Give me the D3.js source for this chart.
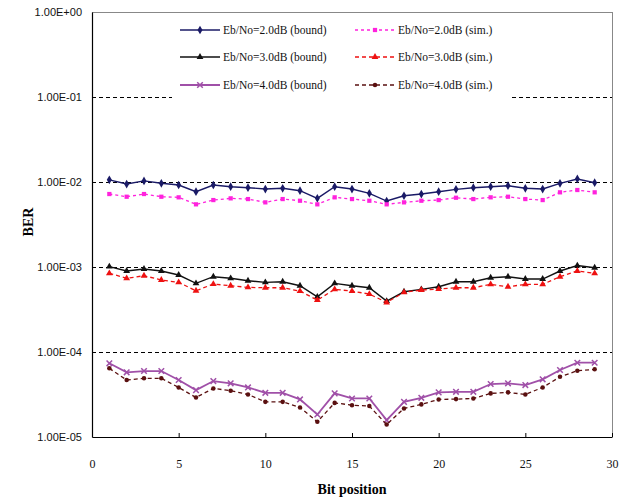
<!DOCTYPE html>
<html>
<head>
<meta charset="utf-8">
<script src="https://cdn.jsdelivr.net/npm/d3@7"></script>
<style>
  body { margin: 0; background: #fff; }
</style>
</head>
<body>
<div id="chart"></div>
<script>
// Bit positions 1..29
const bitPos = [1, 2, 3, 4, 5, 6, 7, 8, 9, 10, 11, 12, 13, 14, 15, 16, 17, 18, 19, 20,
  21, 22, 23, 24, 25, 26, 27, 28, 29];

const bound20 = [0.0106, 0.00947, 0.0103, 0.00965, 0.00922, 0.00769, 0.00922, 0.0088, 0.00857, 0.00827,
  0.00843, 0.0079, 0.00642, 0.0088, 0.00827, 0.00736, 0.00597, 0.00689, 0.00722, 0.00769,
  0.0082, 0.00857, 0.0088, 0.00905, 0.00843, 0.00827, 0.00965, 0.01085, 0.00981];
const sim20 = [0.00722, 0.00671, 0.00722, 0.00671, 0.0066, 0.00546, 0.00613, 0.00642, 0.0063, 0.00576,
  0.0063, 0.00602, 0.00546, 0.0066, 0.0063, 0.00602, 0.00546, 0.00576, 0.00602, 0.00613,
  0.00653, 0.0063, 0.0066, 0.00671, 0.0063, 0.00613, 0.00756, 0.00805, 0.00756];
const bound30 = [0.00101, 0.000897, 0.000947, 0.000897, 0.000805, 0.000642, 0.000769, 0.000736, 0.000689, 0.00066,
  0.000671, 0.000602, 0.000446, 0.000642, 0.000602, 0.00057, 0.000397, 0.000511, 0.000546, 0.000586,
  0.000671, 0.000671, 0.000748, 0.000769, 0.000722, 0.000722, 0.000897, 0.00104, 0.000981];
const sim30 = [0.000843, 0.000736, 0.00079, 0.000703, 0.00066, 0.000525, 0.00063, 0.000602, 0.000576, 0.00057,
  0.00057, 0.000521, 0.000408, 0.000546, 0.000521, 0.00048, 0.000383, 0.000503, 0.000536, 0.00055,
  0.00057, 0.00057, 0.000625, 0.000586, 0.000625, 0.000625, 0.000769, 0.000897, 0.000843];
const bound40 = [7.36e-5, 5.76e-5, 5.97e-5, 5.97e-5, 4.68e-5, 3.56e-5, 4.55e-5, 4.28e-5, 3.83e-5, 3.31e-5,
  3.31e-5, 2.77e-5, 1.84e-5, 3.26e-5, 2.84e-5, 2.84e-5, 1.58e-5, 2.59e-5, 2.89e-5, 3.35e-5,
  3.4e-5, 3.4e-5, 4.2e-5, 4.28e-5, 4.08e-5, 4.77e-5, 6.14e-5, 7.48e-5, 7.48e-5];
const sim40 = [6.42e-5, 4.68e-5, 4.9e-5, 4.9e-5, 3.83e-5, 2.92e-5, 3.73e-5, 3.5e-5, 3.17e-5, 2.59e-5,
  2.59e-5, 2.23e-5, 1.51e-5, 2.52e-5, 2.37e-5, 2.31e-5, 1.4e-5, 2.17e-5, 2.42e-5, 2.77e-5,
  2.79e-5, 2.84e-5, 3.26e-5, 3.35e-5, 3.17e-5, 3.83e-5, 5.11e-5, 6.02e-5, 6.25e-5];

const yTicks = [1e-5, 1e-4, 1e-3, 1e-2, 1e-1, 1];
const xTicks = [0, 5, 10, 15, 20, 25, 30];

const series = [
  { name: "Eb/No=2.0dB (bound)", values: bound20, color: "#1a1a66", marker: d3.symbolDiamond, size: 22, dash: null, lw: 1.4 },
  { name: "Eb/No=2.0dB (sim.)", values: sim20, color: "#ff22dd", marker: d3.symbolSquare, size: 18, dash: "3,3", lw: 1.3 },
  { name: "Eb/No=3.0dB (bound)", values: bound30, color: "#111111", marker: d3.symbolTriangle, size: 20, dash: null, lw: 1.4 },
  { name: "Eb/No=3.0dB (sim.)", values: sim30, color: "#ee1111", marker: d3.symbolTriangle, size: 20, dash: "4,3", lw: 1.3 },
  { name: "Eb/No=4.0dB (bound)", values: bound40, color: "#a050a8", marker: d3.symbolTimes, size: 22, dash: null, lw: 1.8 },
  { name: "Eb/No=4.0dB (sim.)", values: sim40, color: "#5a1010", marker: d3.symbolCircle, size: 16, dash: "4,3", lw: 1.3 }
];

// Dimensions
const width = 631;
const height = 502;
const margin = { top: 12, right: 19, bottom: 65, left: 92 };

const svg = d3.select("#chart").append("svg")
  .attr("width", width)
  .attr("height", height);

// Scales
const x = d3.scaleLinear()
  .domain([0, 30])
  .range([margin.left, width - margin.right]);

const y = d3.scaleLog()
  .domain([1e-5, 1])
  .range([height - margin.bottom, margin.top]);

// Frame (top and right in grey)
svg.append("line")
  .attr("x1", x(0)).attr("x2", x(30))
  .attr("y1", y(1)).attr("y2", y(1))
  .attr("stroke", "#888")
  .attr("shape-rendering", "crispEdges");
svg.append("line")
  .attr("x1", x(30)).attr("x2", x(30))
  .attr("y1", y(1)).attr("y2", y(1e-5))
  .attr("stroke", "#888")
  .attr("shape-rendering", "crispEdges");

// Dashed gridlines
svg.append("g")
  .selectAll("line")
  .data(yTicks.filter(d => d > 1e-5 && d < 1))
  .enter()
  .append("line")
    .attr("x1", x(0))
    .attr("x2", x(30))
    .attr("y1", d => Math.round(y(d)) + 0.5)
    .attr("y2", d => Math.round(y(d)) + 0.5)
    .attr("stroke", "#000")
    .attr("stroke-width", 1.2)
    .attr("stroke-dasharray", "4,3");

// Axes
const fmtExp = d => {
  const e = Math.round(Math.log10(d));
  const sign = e < 0 ? "-" : "+";
  return "1.00E" + sign + String(Math.abs(e)).padStart(2, "0");
};

const yAxis = svg.append("g")
  .attr("transform", `translate(${margin.left}, 0)`)
  .call(d3.axisLeft(y).tickValues(yTicks).tickFormat(fmtExp).tickSizeInner(0).tickSizeOuter(0).tickPadding(10));
yAxis.select(".domain").attr("stroke", "#000").attr("stroke-width", 1.2);
yAxis.selectAll("text")
  .style("font-family", "'Liberation Sans', Arial, sans-serif")
  .style("font-size", "11px")
  .attr("fill", "#111");

const xAxis = svg.append("g")
  .attr("transform", `translate(0, ${height - margin.bottom})`)
  .call(d3.axisBottom(x).tickValues(xTicks).tickSizeInner(-4).tickSizeOuter(0).tickPadding(22));
xAxis.select(".domain").attr("stroke-width", 1.2);
xAxis.selectAll("text")
  .style("font-family", "'Liberation Serif', 'Times New Roman', serif")
  .style("font-size", "12px")
  .attr("fill", "#111");

// Axis labels
svg.append("text")
  .attr("x", (x(0) + x(30)) / 2)
  .attr("y", 494)
  .attr("text-anchor", "middle")
  .style("font-family", "'Liberation Serif', 'Times New Roman', serif")
  .style("font-size", "14px")
  .style("font-weight", "bold")
  .text("Bit position");

svg.append("text")
  .attr("transform", "rotate(-90)")
  .attr("x", -222)
  .attr("y", 33)
  .attr("text-anchor", "middle")
  .style("font-family", "'Liberation Serif', 'Times New Roman', serif")
  .style("font-size", "14px")
  .style("font-weight", "bold")
  .text("BER");

// Lines and markers
const line = d3.line()
  .x((d, i) => x(bitPos[i]))
  .y(d => y(d));

series.forEach(s => {
  svg.append("path")
    .datum(s.values)
    .attr("fill", "none")
    .attr("stroke", s.color)
    .attr("stroke-width", s.lw)
    .attr("stroke-dasharray", s.dash)
    .attr("d", line);

  const isStroke = s.marker === d3.symbolTimes;
  svg.append("g")
    .selectAll("path")
    .data(s.values)
    .enter()
    .append("path")
      .attr("transform", (d, i) => `translate(${x(bitPos[i])},${y(d)})`)
      .attr("d", d3.symbol().type(s.marker).size(s.size))
      .attr("fill", isStroke ? "none" : s.color)
      .attr("stroke", isStroke ? s.color : "none")
      .attr("stroke-width", 1.5);
});

// Legend (white box hides the gridline behind it)
const legend = svg.append("g");
legend.append("rect")
  .attr("x", 172)
  .attr("y", 16)
  .attr("width", 340)
  .attr("height", 88)
  .attr("fill", "#fff");

const legendRows = [30, 57, 85];
series.forEach((s, i) => {
  const col = i % 2;
  const row = Math.floor(i / 2);
  const lx = col === 0 ? 180 : 355;
  const ly = legendRows[row];

  legend.append("line")
    .attr("x1", lx)
    .attr("x2", lx + 40)
    .attr("y1", ly)
    .attr("y2", ly)
    .attr("stroke", s.color)
    .attr("stroke-width", s.lw)
    .attr("stroke-dasharray", s.dash);

  legend.append("path")
    .attr("transform", `translate(${lx + 20},${ly})`)
    .attr("d", d3.symbol().type(s.marker).size(s.size))
    .attr("fill", s.marker === d3.symbolTimes ? "none" : s.color)
    .attr("stroke", s.marker === d3.symbolTimes ? s.color : "none")
    .attr("stroke-width", 1.5);

  legend.append("text")
    .attr("x", lx + 43)
    .attr("y", ly)
    .attr("dy", "0.35em")
    .style("font-family", "'Liberation Serif', 'Times New Roman', serif")
    .style("font-size", "11.5px")
    .attr("fill", "#111")
    .text(s.name);
});
</script>
</body>
</html>
